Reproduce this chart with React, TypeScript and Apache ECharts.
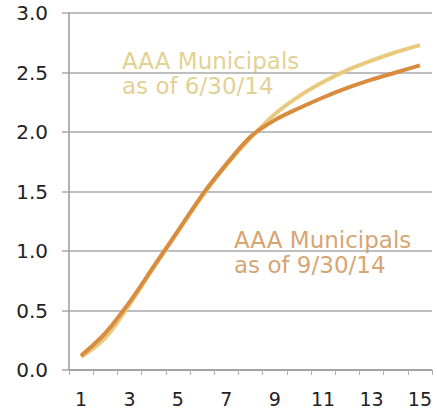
import React, { useEffect, useRef } from "react";
import * as echarts from "echarts";

const categories = ["1", "2", "3", "4", "5", "6", "7", "8", "9", "10", "11", "12", "13", "14", "15"];
const june2014 = [0.11, 0.27, 0.55, 0.86, 1.16, 1.46, 1.72, 1.95, 2.15, 2.3, 2.42, 2.52, 2.6, 2.67, 2.73];
const sept2014 = [0.12, 0.31, 0.57, 0.87, 1.17, 1.47, 1.73, 1.96, 2.1, 2.2, 2.29, 2.37, 2.44, 2.5, 2.56];
const juneLabel = "AAA Municipals\nas of 6/30/14";
const septLabel = "AAA Municipals\nas of 9/30/14";

export default function App() {
  const ref = useRef<HTMLDivElement>(null);
  useEffect(() => {
    document.body.style.margin = "0";
    document.body.style.overflow = "hidden";
    if (!ref.current) return;
    const chart = echarts.init(ref.current, null, { renderer: "svg" });
    const font = "'DejaVu Sans', Verdana, sans-serif";
    chart.setOption({
      animation: false,
      backgroundColor: "#fff",
      grid: { left: 69, right: 5, top: 13, bottom: 41 },
      xAxis: {
        type: "category",
        data: categories,
        boundaryGap: true,
        axisLine: { lineStyle: { color: "#9a9a9a", width: 1.5 } },
        axisTick: { show: true, interval: 0, length: 5, lineStyle: { color: "#b0b0b0", width: 1 } },
        axisLabel: {
          interval: 1,
          margin: 21,
          color: "#222",
          fontSize: 19,
          lineHeight: 16,
          fontFamily: font,
        },
        splitLine: { show: false },
      },
      yAxis: {
        type: "value",
        min: 0,
        max: 3,
        interval: 0.5,
        axisLine: { show: true, lineStyle: { color: "#9a9a9a", width: 1.5 } },
        axisTick: { show: true, length: 7, lineStyle: { color: "#a8a8a8", width: 1.5 } },
        axisLabel: {
          margin: 21,
          color: "#222",
          fontSize: 20,
          fontFamily: font,
          formatter: (v: number) => v.toFixed(1),
        },
        splitLine: { show: true, lineStyle: { color: "#a8a8a8", width: 1.5 } },
      },
      series: [
        {
          name: "AAA Municipals as of 6/30/14",
          type: "line",
          data: june2014,
          smooth: 0.35,
          showSymbol: false,
          lineStyle: { color: "#e8c97e", width: 4 },
          z: 2,
        },
        {
          name: "AAA Municipals as of 9/30/14",
          type: "line",
          data: sept2014,
          smooth: 0.3,
          showSymbol: false,
          lineStyle: { color: "#d98c3e", width: 4 },
          z: 3,
        },
      ],
      graphic: [
        {
          type: "text",
          left: 122,
          top: 48,
          style: {
            text: juneLabel,
            fill: "#e3d193",
            font: `23px ${font}`,
            lineHeight: 25,
          },
        },
        {
          type: "text",
          left: 234,
          top: 227,
          style: {
            text: septLabel,
            fill: "#d6a574",
            font: `23px ${font}`,
            lineHeight: 25,
          },
        },
      ],
    });
    return () => chart.dispose();
  }, []);
  return <div ref={ref} style={{ width: 437, height: 411 }} />;
}
